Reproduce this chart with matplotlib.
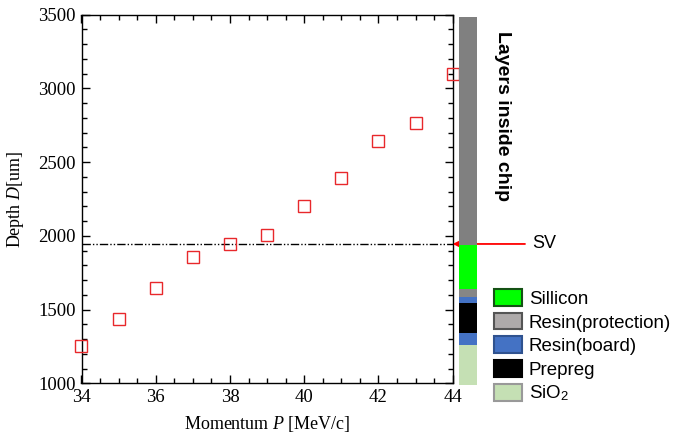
import matplotlib
matplotlib.use("Agg")
import matplotlib.pyplot as plt
from matplotlib.patches import Patch
from matplotlib.ticker import MultipleLocator

# Stopping depth vs beam momentum
momentum = [34, 35, 36, 37, 38, 39, 40, 41, 42, 43, 44]  # MeV/c
depth = [1250, 1435, 1645, 1855, 1945, 2005, 2200, 2390, 2645, 2765, 3100]  # um

# Sensitive volume depth
sv_depth = 1945

# Layer stack of the chip (depth ranges in um)
layer_kind = ["SiO2", "Resin(board)", "Prepreg", "Resin(board)",
              "Resin(protection)", "Sillicon", "upper"]
layer_bottom = [990, 1260, 1343, 1547, 1587, 1640, 1940]
layer_top = [1260, 1343, 1547, 1587, 1640, 1935, 3487]

legend_names = ["Sillicon", "Resin(protection)", "Resin(board)", "Prepreg", "SiO2"]
legend_labels = ["Sillicon", "Resin(protection)", "Resin(board)", "Prepreg",
                 r"SiO$_\mathsf{2}$"]

bar_color = {"SiO2": "#c5e0b4", "Resin(board)": "#4472c4", "Prepreg": "#000000",
             "Resin(protection)": "#868686", "Sillicon": "#00ff00", "upper": "#808080"}
legend_face = {"Sillicon": "#00ff00", "Resin(protection)": "#aeaaaa",
               "Resin(board)": "#4472c4", "Prepreg": "#000000", "SiO2": "#c5e0b4"}
legend_edge = {"Sillicon": "#145214", "Resin(protection)": "#555555",
               "Resin(board)": "#2f528f", "Prepreg": "#000000", "SiO2": "#999999"}

plt.rcParams["mathtext.fontset"] = "custom"
plt.rcParams["mathtext.rm"] = "Liberation Serif"
plt.rcParams["mathtext.it"] = "Liberation Serif:italic"
plt.rcParams["mathtext.sf"] = "Liberation Sans"

W, H = 674, 443
fig = plt.figure(figsize=(W / 100, H / 100), dpi=100)

x0, x1 = 81.5, 452.7
y0, y1 = 14.7, 383.3
ax = fig.add_axes([x0 / W, 1 - y1 / H, (x1 - x0) / W, (y1 - y0) / H])

ax.plot(momentum, depth, linestyle="none", marker="s", markersize=8.5,
        markerfacecolor="none", markeredgecolor="#e8282b", markeredgewidth=1.0,
        clip_on=False, zorder=4)

ax.axhline(sv_depth, color="black", lw=1.0, dashes=[6, 1.5, 1, 1.5, 1, 1.5], zorder=3)

ax.set_xlim(34, 44)
ax.set_ylim(1000, 3500)
ax.xaxis.set_major_locator(MultipleLocator(2))
ax.xaxis.set_minor_locator(MultipleLocator(0.5))
ax.yaxis.set_major_locator(MultipleLocator(500))
ax.yaxis.set_minor_locator(MultipleLocator(100))
ax.tick_params(which="both", direction="in", top=True, right=True, width=1.0)
ax.tick_params(which="major", length=6, labelsize=13.5, pad=4)
ax.tick_params(which="minor", length=3.5)
for lab in ax.get_xticklabels() + ax.get_yticklabels():
    lab.set_family("Liberation Serif")
for sp in ax.spines.values():
    sp.set_linewidth(1.0)

ax.set_xlabel(r"Momentum $P$ [MeV/c]", fontsize=13, family="Liberation Serif", labelpad=6)
ax.set_ylabel(r"Depth $D$[um]", fontsize=13, family="Liberation Serif", labelpad=9)

# Column showing the layers inside the chip
bx = fig.add_axes([459 / W, 1 - y1 / H, 18 / W, (y1 - y0) / H], sharey=ax)
for kind, lo, hi in zip(layer_kind, layer_bottom, layer_top):
    bx.bar(0.5, hi - lo, bottom=lo, width=1.0, color=bar_color[kind],
           linewidth=0, clip_on=False)
bx.set_xlim(0, 1)
bx.axis("off")

fig.text(502 / W, 1 - 116 / H, "Layers inside chip", rotation=-90,
         ha="center", va="center", fontsize=14, fontweight="bold",
         family="Liberation Sans")

# SV marker arrow
ax.annotate("", xy=(1.0, sv_depth), xycoords=("axes fraction", "data"),
            xytext=((525 - x0) / (x1 - x0), sv_depth),
            textcoords=("axes fraction", "data"),
            arrowprops=dict(arrowstyle="-|>", color="#ff0000", lw=1.3,
                            mutation_scale=10, shrinkA=0, shrinkB=0),
            annotation_clip=False, zorder=6)
ax.text((532 - x0) / (x1 - x0), sv_depth, "SV", transform=ax.get_yaxis_transform(),
        ha="left", va="center", fontsize=13, family="Liberation Sans")

handles = [Patch(facecolor=legend_face[n], edgecolor=legend_edge[n], linewidth=1.5)
           for n in legend_names]
fig.legend(handles, legend_labels, loc="upper left",
           bbox_to_anchor=(494 / W, 1 - 289 / H), frameon=False,
           prop={"family": "Liberation Sans", "size": 13.5},
           handlelength=1.5, handleheight=1.0, handletextpad=0.35,
           labelspacing=0.26, borderaxespad=0, borderpad=0)

fig.savefig("out.png", dpi=100)
